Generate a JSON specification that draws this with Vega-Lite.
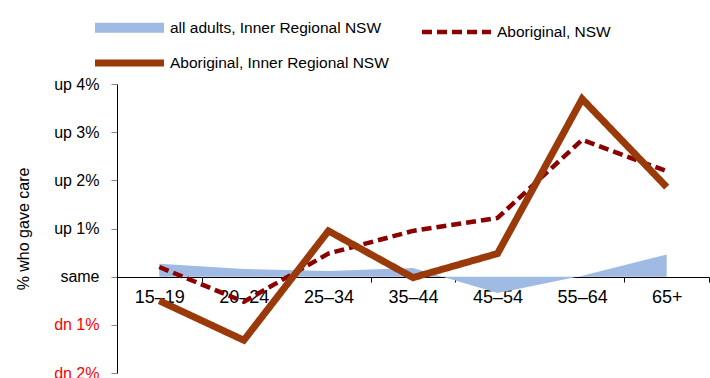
{
  "$schema": "https://vega.github.io/schema/vega-lite/v6.json",
  "width": 592,
  "height": 289,
  "autosize": {"type": "none"},
  "padding": {"left": 117, "top": 84, "right": 1, "bottom": 5},
  "background": "white",
  "config": {"view": {"stroke": null}, "font": "Liberation Sans"},
  "data": {
    "values": [
      {"age": "15–19", "series": "all adults, Inner Regional NSW", "value": 0.27},
      {"age": "20–24", "series": "all adults, Inner Regional NSW", "value": 0.16},
      {"age": "25–34", "series": "all adults, Inner Regional NSW", "value": 0.12},
      {"age": "35–44", "series": "all adults, Inner Regional NSW", "value": 0.18},
      {"age": "45–54", "series": "all adults, Inner Regional NSW", "value": -0.34},
      {"age": "55–64", "series": "all adults, Inner Regional NSW", "value": 0.02},
      {"age": "65+", "series": "all adults, Inner Regional NSW", "value": 0.46},
      {"age": "15–19", "series": "Aboriginal, NSW", "value": 0.2},
      {"age": "20–24", "series": "Aboriginal, NSW", "value": -0.52},
      {"age": "25–34", "series": "Aboriginal, NSW", "value": 0.48},
      {"age": "35–44", "series": "Aboriginal, NSW", "value": 0.95},
      {"age": "45–54", "series": "Aboriginal, NSW", "value": 1.22},
      {"age": "55–64", "series": "Aboriginal, NSW", "value": 2.84},
      {"age": "65+", "series": "Aboriginal, NSW", "value": 2.19},
      {"age": "15–19", "series": "Aboriginal, Inner Regional NSW", "value": -0.5},
      {"age": "20–24", "series": "Aboriginal, Inner Regional NSW", "value": -1.32},
      {"age": "25–34", "series": "Aboriginal, Inner Regional NSW", "value": 0.95},
      {"age": "35–44", "series": "Aboriginal, Inner Regional NSW", "value": -0.02},
      {"age": "45–54", "series": "Aboriginal, Inner Regional NSW", "value": 0.48},
      {"age": "55–64", "series": "Aboriginal, Inner Regional NSW", "value": 3.69},
      {"age": "65+", "series": "Aboriginal, Inner Regional NSW", "value": 1.86}
    ]
  },
  "encoding": {
    "x": {
      "field": "age",
      "type": "nominal",
      "sort": null,
      "scale": {"paddingInner": 0, "paddingOuter": 0},
      "axis": {
        "title": null,
        "labelAngle": 0,
        "offset": -96,
        "tickBand": "extent",
        "domainColor": "black",
        "tickColor": "black",
        "tickSize": 5,
        "labelFont": "Liberation Sans",
        "labelFontSize": 18,
        "labelColor": "black",
        "labelPadding": 6
      }
    },
    "y": {
      "field": "value",
      "type": "quantitative",
      "scale": {"domain": [-2, 4], "nice": false},
      "axis": {
        "title": "% who gave care",
        "titleFontSize": 16,
        "titleFontWeight": "normal",
        "titleColor": "black",
        "titlePadding": 22,
        "values": [-2, -1, 0, 1, 2, 3, 4],
        "labelExpr": "datum.value > 0 ? 'up ' + datum.value + '%' : (datum.value < 0 ? 'dn ' + abs(datum.value) + '%' : 'same')",
        "labelColor": {"condition": {"test": "datum.value < 0", "value": "#ff0000"}, "value": "black"},
        "labelFontSize": 16,
        "labelPadding": 12,
        "grid": false,
        "domainColor": "black",
        "tickColor": "#888888",
        "tickSize": 6
      }
    }
  },
  "layer": [
    {
      "transform": [{"filter": "datum.series === 'all adults, Inner Regional NSW'"}],
      "mark": {"type": "area", "color": "#9fbbe4", "interpolate": "linear"}
    },
    {
      "transform": [{"filter": "datum.series !== 'all adults, Inner Regional NSW'"}],
      "mark": {"type": "line", "interpolate": "linear"},
      "encoding": {
        "color": {
          "field": "series",
          "type": "nominal",
          "scale": {
            "domain": ["all adults, Inner Regional NSW", "Aboriginal, NSW", "Aboriginal, Inner Regional NSW"],
            "range": ["#9fbbe4", "#8b0000", "#9a3a0a"]
          },
          "legend": {
            "title": null,
            "orient": "none",
            "legendX": -4,
            "legendY": -73,
            "columns": 2,
            "direction": "horizontal",
            "symbolType": "M-3,0H3",
            "symbolSize": 529,
            "labelFontSize": 15.5,
            "labelColor": "black",
            "labelOffset": 24,
            "labelLimit": 400,
            "columnPadding": 24,
            "rowPadding": -7
          }
        },
        "strokeDash": {
          "field": "series",
          "type": "nominal",
          "scale": {
            "type": "ordinal",
            "domain": ["all adults, Inner Regional NSW", "Aboriginal, NSW", "Aboriginal, Inner Regional NSW"],
            "range": [[1, 0], [10, 5], [1, 0]]
          },
          "legend": null
        },
        "strokeWidth": {
          "field": "series",
          "type": "nominal",
          "scale": {
            "type": "ordinal",
            "domain": ["all adults, Inner Regional NSW", "Aboriginal, NSW", "Aboriginal, Inner Regional NSW"],
            "range": [10, 4.5, 7]
          },
          "legend": null
        }
      }
    }
  ]
}
